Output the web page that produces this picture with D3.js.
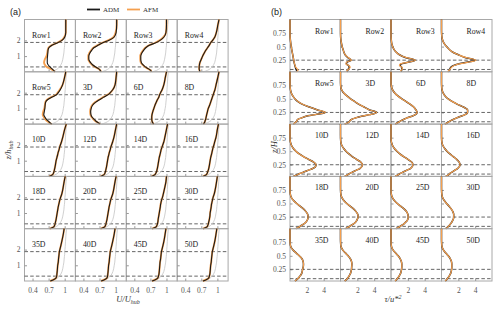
<!DOCTYPE html>
<html lang="en">
<head>
<meta charset="UTF-8">
<title>Wake profiles</title>
<script src="https://d3js.org/d3.v7.min.js"></script>
<style>
  body { margin: 0; background: #fff; }
  svg { display: block; }
  .tick text { font-family: "Liberation Serif", serif; font-size: 7.5px; fill: #555; }
  .tick line { stroke: #999; }
  .lbl { font-family: "Liberation Serif", serif; font-size: 7.8px; fill: #222; }
  .leg { font-family: "Liberation Serif", serif; font-size: 7px; fill: #333; }
  .ttl { font-family: "Liberation Serif", serif; font-size: 8.5px; font-style: italic; fill: #333; }
  .tag { font-family: "Liberation Sans", Arial, sans-serif; font-size: 9px; fill: #222; }
</style>
</head>
<body>
<div id="chart"></div>
<script>
const labels = ["Row1", "Row2", "Row3", "Row4", "Row5", "3D", "6D", "8D",
  "10D", "12D", "14D", "16D", "18D", "20D", "25D", "30D", "35D", "40D", "45D", "50D"];

// (a) streamwise velocity U/U_hub, read at these heights z/h_hub
const zA = [0, 0.1, 0.2, 0.3, 0.45, 0.6, 0.8, 1.0, 1.2, 1.4, 1.55, 1.7, 1.85, 2.0, 2.2, 2.5, 3.0, 3.33];
const inflowU = [0.74, 0.82, 0.87, 0.9, 0.93, 0.95, 0.965, 0.975, 0.985, 0.99, 0.995, 1.0, 1.0, 1.005, 1.01, 1.015, 1.025, 1.035];
const admU = [
  [0.82, 0.79, 0.76, 0.73, 0.69, 0.675, 0.675, 0.68, 0.685, 0.69, 0.71, 0.77, 0.87, 0.95, 1.0, 1.02, 1.02, 1.02],
  [0.73, 0.71, 0.68, 0.63, 0.57, 0.53, 0.5, 0.5, 0.52, 0.56, 0.6, 0.68, 0.76, 0.87, 0.97, 1.01, 1.02, 1.02],
  [0.72, 0.7, 0.66, 0.61, 0.56, 0.53, 0.52, 0.52, 0.54, 0.58, 0.62, 0.69, 0.8, 0.88, 0.95, 0.99, 1.0, 1.0],
  [0.675, 0.665, 0.66, 0.66, 0.665, 0.675, 0.7, 0.725, 0.755, 0.79, 0.82, 0.85, 0.875, 0.91, 0.95, 0.98, 1.01, 1.03],
  [0.76, 0.72, 0.69, 0.66, 0.63, 0.61, 0.62, 0.63, 0.635, 0.645, 0.68, 0.75, 0.84, 0.88, 0.92, 0.96, 1.0, 1.02],
  [0.71, 0.67, 0.63, 0.6, 0.56, 0.54, 0.535, 0.545, 0.57, 0.63, 0.7, 0.77, 0.85, 0.9, 0.95, 0.99, 1.01, 1.02],
  [0.76, 0.74, 0.73, 0.725, 0.725, 0.73, 0.745, 0.765, 0.785, 0.81, 0.83, 0.855, 0.87, 0.89, 0.92, 0.95, 0.98, 1.0],
  [0.74, 0.76, 0.77, 0.78, 0.79, 0.8, 0.815, 0.83, 0.855, 0.875, 0.89, 0.905, 0.92, 0.935, 0.955, 0.975, 1.01, 1.03],
  [0.71, 0.77, 0.79, 0.8, 0.81, 0.82, 0.83, 0.84, 0.855, 0.87, 0.88, 0.895, 0.905, 0.92, 0.94, 0.965, 1.0, 1.03],
  [0.72, 0.78, 0.8, 0.81, 0.82, 0.83, 0.84, 0.85, 0.86, 0.875, 0.885, 0.9, 0.91, 0.925, 0.945, 0.97, 1.0, 1.02],
  [0.72, 0.78, 0.8, 0.815, 0.825, 0.835, 0.845, 0.855, 0.865, 0.88, 0.89, 0.9, 0.915, 0.93, 0.95, 0.97, 1.0, 1.02],
  [0.73, 0.79, 0.81, 0.82, 0.835, 0.845, 0.855, 0.865, 0.875, 0.89, 0.9, 0.91, 0.92, 0.935, 0.95, 0.975, 1.0, 1.02],
  [0.72, 0.79, 0.81, 0.82, 0.83, 0.84, 0.85, 0.86, 0.87, 0.88, 0.89, 0.9, 0.91, 0.925, 0.945, 0.965, 0.99, 1.01],
  [0.72, 0.79, 0.81, 0.82, 0.83, 0.84, 0.85, 0.86, 0.87, 0.88, 0.89, 0.9, 0.91, 0.925, 0.945, 0.965, 0.99, 1.01],
  [0.73, 0.8, 0.82, 0.83, 0.84, 0.845, 0.855, 0.865, 0.875, 0.885, 0.89, 0.9, 0.91, 0.925, 0.94, 0.96, 0.99, 1.0],
  [0.73, 0.8, 0.82, 0.83, 0.84, 0.85, 0.86, 0.865, 0.875, 0.885, 0.89, 0.9, 0.91, 0.92, 0.94, 0.96, 0.985, 1.0],
  [0.73, 0.8, 0.84, 0.85, 0.855, 0.86, 0.865, 0.87, 0.88, 0.885, 0.89, 0.895, 0.9, 0.91, 0.925, 0.945, 0.975, 0.99],
  [0.73, 0.8, 0.84, 0.85, 0.855, 0.86, 0.865, 0.87, 0.88, 0.885, 0.89, 0.895, 0.9, 0.91, 0.925, 0.945, 0.975, 0.99],
  [0.73, 0.8, 0.84, 0.85, 0.86, 0.865, 0.87, 0.875, 0.88, 0.89, 0.895, 0.9, 0.905, 0.915, 0.93, 0.95, 0.975, 0.99],
  [0.73, 0.8, 0.84, 0.85, 0.86, 0.865, 0.87, 0.875, 0.885, 0.89, 0.895, 0.9, 0.905, 0.915, 0.93, 0.95, 0.975, 0.99]
];
// AFM only parts away from ADM in the near wake; elsewhere the two lie on top of each other
const afmU = admU.slice();
afmU[0] = [0.82, 0.78, 0.73, 0.67, 0.63, 0.615, 0.63, 0.66, 0.675, 0.685, 0.7, 0.76, 0.86, 0.94, 0.99, 1.02, 1.02, 1.02];
afmU[1] = [0.73, 0.71, 0.68, 0.62, 0.56, 0.52, 0.49, 0.49, 0.51, 0.55, 0.59, 0.67, 0.75, 0.86, 0.96, 1.0, 1.02, 1.02];
afmU[2] = [0.72, 0.7, 0.65, 0.6, 0.55, 0.52, 0.51, 0.51, 0.53, 0.57, 0.61, 0.68, 0.79, 0.87, 0.94, 0.99, 1.0, 1.0];
afmU[4] = [0.76, 0.71, 0.67, 0.64, 0.61, 0.59, 0.6, 0.62, 0.63, 0.64, 0.67, 0.74, 0.83, 0.87, 0.91, 0.96, 1.0, 1.02];
afmU[5] = [0.71, 0.67, 0.62, 0.59, 0.55, 0.53, 0.525, 0.535, 0.56, 0.62, 0.69, 0.76, 0.84, 0.9, 0.95, 0.99, 1.01, 1.02];

// (b) shear stress tau/u*^2, read at these heights z/H
const zB = [0.035, 0.06, 0.09, 0.12, 0.15, 0.18, 0.21, 0.25, 0.3, 0.35, 0.4, 0.45, 0.5, 0.55, 0.6, 0.65, 0.7, 0.8, 0.9, 1.0];
const admT = [
  [0.85, 0.78, 0.7, 0.64, 0.58, 0.53, 0.49, 0.44, 0.38, 0.32, 0.26, 0.2, 0.15, 0.1, 0.06, 0.03, 0.01, 0, 0, 0],
  [0.75, 0.85, 0.95, 1.05, 0.95, 0.7, 0.75, 1.25, 0.85, 0.55, 0.4, 0.3, 0.2, 0.13, 0.07, 0.03, 0.01, 0, 0, 0],
  [1.2, 1.25, 1.3, 1.25, 1.1, 1.2, 2.0, 2.85, 1.7, 1.0, 0.6, 0.35, 0.2, 0.1, 0.05, 0.02, 0, 0, 0, 0],
  [0.8, 0.95, 1.0, 1.1, 1.4, 2.0, 3.0, 4.0, 2.8, 2.0, 1.3, 0.9, 0.6, 0.35, 0.18, 0.08, 0.03, 0, 0, 0],
  [0.4, 0.6, 0.8, 0.9, 1.4, 1.9, 3.0, 4.2, 3.2, 2.3, 1.5, 0.95, 0.6, 0.35, 0.18, 0.08, 0.03, 0, 0, 0],
  [0.5, 0.9, 1.1, 1.3, 1.8, 2.5, 3.5, 4.3, 3.4, 2.8, 2.2, 1.7, 1.2, 0.8, 0.45, 0.2, 0.06, 0, 0, 0],
  [0.5, 0.8, 1.1, 1.5, 1.9, 2.5, 2.9, 3.1, 2.95, 2.7, 2.3, 1.8, 1.3, 0.85, 0.5, 0.25, 0.1, 0, 0, 0],
  [0.4, 0.7, 1.0, 1.4, 1.8, 2.3, 2.8, 3.1, 3.1, 2.6, 1.9, 1.3, 0.8, 0.45, 0.22, 0.1, 0.03, 0, 0, 0],
  [0.4, 0.8, 1.2, 1.7, 2.2, 2.7, 3.0, 3.1, 2.8, 2.2, 1.6, 1.1, 0.7, 0.4, 0.2, 0.08, 0.02, 0, 0, 0],
  [0.5, 0.8, 1.1, 1.5, 1.9, 2.3, 2.5, 2.6, 2.4, 1.9, 1.4, 1.0, 0.65, 0.38, 0.18, 0.07, 0.02, 0, 0, 0],
  [0.5, 0.8, 1.1, 1.5, 1.9, 2.3, 2.5, 2.6, 2.45, 2.0, 1.5, 1.05, 0.7, 0.4, 0.2, 0.08, 0.02, 0, 0, 0],
  [0.5, 0.8, 1.0, 1.3, 1.6, 1.9, 2.1, 2.2, 2.1, 1.8, 1.4, 1.0, 0.65, 0.38, 0.18, 0.07, 0.02, 0, 0, 0],
  [0.7, 1.0, 1.3, 1.6, 1.85, 2.0, 2.1, 2.15, 2.1, 1.9, 1.6, 1.2, 0.8, 0.45, 0.2, 0.07, 0.02, 0, 0, 0],
  [0.6, 0.9, 1.2, 1.5, 1.75, 1.9, 2.0, 2.1, 2.05, 1.85, 1.55, 1.15, 0.75, 0.42, 0.2, 0.07, 0.02, 0, 0, 0],
  [0.6, 0.9, 1.2, 1.5, 1.7, 1.9, 2.0, 2.05, 2.0, 1.85, 1.55, 1.15, 0.75, 0.42, 0.2, 0.07, 0.02, 0, 0, 0],
  [0.5, 0.7, 0.9, 1.05, 1.2, 1.3, 1.4, 1.45, 1.45, 1.35, 1.15, 0.9, 0.6, 0.35, 0.16, 0.06, 0.02, 0, 0, 0],
  [0.6, 0.8, 1.0, 1.15, 1.3, 1.4, 1.45, 1.5, 1.58, 1.6, 1.55, 1.4, 1.1, 0.75, 0.4, 0.15, 0.04, 0, 0, 0],
  [0.5, 0.7, 0.85, 1.0, 1.1, 1.2, 1.25, 1.3, 1.33, 1.35, 1.3, 1.15, 0.9, 0.6, 0.3, 0.12, 0.03, 0, 0, 0],
  [0.5, 0.65, 0.8, 0.95, 1.05, 1.15, 1.2, 1.25, 1.28, 1.28, 1.22, 1.08, 0.85, 0.55, 0.28, 0.1, 0.03, 0, 0, 0],
  [0.45, 0.6, 0.75, 0.9, 1.0, 1.1, 1.15, 1.2, 1.22, 1.22, 1.17, 1.03, 0.8, 0.52, 0.26, 0.1, 0.03, 0, 0, 0]
];
const afmT = admT.slice();
afmT[0] = [0.75, 0.95, 0.85, 0.68, 0.6, 0.54, 0.5, 0.45, 0.38, 0.32, 0.26, 0.2, 0.15, 0.1, 0.06, 0.03, 0.01, 0, 0, 0];
afmT[1] = [0.7, 0.8, 1.0, 1.15, 1.0, 0.65, 0.7, 1.3, 0.9, 0.55, 0.4, 0.3, 0.2, 0.13, 0.07, 0.03, 0.01, 0, 0, 0];
afmT[2] = [1.1, 1.2, 1.35, 1.3, 1.0, 1.1, 2.0, 2.9, 1.75, 1.0, 0.6, 0.35, 0.2, 0.1, 0.05, 0.02, 0, 0, 0, 0];
afmT[3] = [0.7, 0.9, 1.05, 1.2, 1.5, 2.1, 3.1, 4.1, 2.85, 2.0, 1.3, 0.9, 0.6, 0.35, 0.18, 0.08, 0.03, 0, 0, 0];

// rotor lines (dashed)
const rotorA = [0.31, 1.87];
const rotorB = [0.078, 0.25];

const ADM_COLOR = "#1a1a1a", AFM_COLOR = "#f5a04f";

const svg = d3.select("#chart").append("svg")
  .attr("width", 500)
  .attr("height", 310);

const rowTop = 19.5, rowH = 52.3;
const fmt = d3.format("~g");

const panels = [
  { x0: 24.5, colW: 50.9, xDom: [0.25, 1.2], yDom: [0, 3.33], z: zA, adm: admU, afm: afmU,
    grey: inflowU, rotor: rotorA, xTicks: [0.4, 0.7, 1], yTicks: [1, 2], labelDx: 7.5, labelDy: 18, afmBelow: true },
  { x0: 290, colW: 50.5, xDom: [0, 6], yDom: [0.035, 1.0], z: zB, adm: admT, afm: afmT,
    grey: null, rotor: rotorB, xTicks: [2, 4], yTicks: [0.25, 0.5, 0.75], labelDx: 25, labelDy: 14, afmBelow: false }
];

panels.forEach(p => {
  const g = svg.append("g");
  labels.forEach((name, i) => {
    const r = Math.floor(i / 4), c = i % 4;
    const x = d3.scaleLinear().domain(p.xDom).range([p.x0 + c * p.colW, p.x0 + (c + 1) * p.colW]);
    const y = d3.scaleLinear().domain(p.yDom).range([rowTop + (r + 1) * rowH, rowTop + r * rowH]);
    const cell = g.append("g");

    cell.append("rect")
      .attr("x", x.range()[0]).attr("y", y.range()[1])
      .attr("width", p.colW).attr("height", rowH)
      .attr("fill", "none").attr("stroke", "#a8a8a8").attr("stroke-width", 1);

    // small inward frame ticks
    const bottomAx = cell.append("g").attr("transform", `translate(0,${y.range()[0]})`)
      .call(d3.axisBottom(x).tickValues(p.xTicks).tickSize(-2.5).tickFormat(r === 4 ? fmt : () => ""));
    bottomAx.select(".domain").remove();
    bottomAx.selectAll(".tick text").attr("dy", "1.2em");
    const leftAx = cell.append("g").attr("transform", `translate(${x.range()[0]},0)`)
      .call(d3.axisLeft(y).tickValues(p.yTicks).tickSize(-2.5).tickPadding(4).tickFormat(c === 0 ? fmt : () => ""));
    leftAx.select(".domain").remove();

    p.rotor.forEach(v => {
      cell.append("line")
        .attr("x1", x.range()[0]).attr("x2", x.range()[1])
        .attr("y1", y(v)).attr("y2", y(v))
        .attr("stroke", "#555").attr("stroke-width", 0.9).attr("stroke-dasharray", "3.5,2.2");
    });

    const path = vals => {
      const pts = p.z.map((z, k) => [x(vals[k]), y(z)]).reverse();
      return d3.line().curve(d3.curveMonotoneY)(pts);
    };

    if (p.grey) {
      cell.append("path").attr("d", path(p.grey))
        .attr("fill", "none").attr("stroke", "#c4c4c4").attr("stroke-width", 0.8);
    }
    if (p.afmBelow) {
      cell.append("path").attr("d", path(p.afm[i])).attr("fill", "none")
        .attr("stroke", AFM_COLOR).attr("stroke-width", 1.9);
      cell.append("path").attr("d", path(p.adm[i])).attr("fill", "none")
        .attr("stroke", ADM_COLOR).attr("stroke-width", 1.1);
    } else {
      cell.append("path").attr("d", path(p.adm[i])).attr("fill", "none")
        .attr("stroke", ADM_COLOR).attr("stroke-width", 1.5);
      cell.append("path").attr("d", path(p.afm[i])).attr("fill", "none")
        .attr("stroke", AFM_COLOR).attr("stroke-width", 1.2);
    }

    cell.append("text").attr("class", "lbl")
      .attr("x", x.range()[0] + p.labelDx)
      .attr("y", y.range()[1] + p.labelDy)
      .text(name);
  });
});

// legend
const legend = svg.append("g");
[["ADM", ADM_COLOR, 87], ["AFM", AFM_COLOR, 127]].forEach(([name, col, lx]) => {
  legend.append("line").attr("x1", lx).attr("x2", lx + 13).attr("y1", 9.5).attr("y2", 9.5)
    .attr("stroke", col).attr("stroke-width", 1.8);
  legend.append("text").attr("class", "leg").attr("x", lx + 16).attr("y", 12).text(name);
});

// panel tags and axis titles
svg.append("text").attr("class", "tag").attr("x", 10).attr("y", 14.5).text("(a)");
svg.append("text").attr("class", "tag").attr("x", 271).attr("y", 14.5).text("(b)");

const tA = svg.append("text").attr("class", "ttl").attr("x", 128).attr("y", 302).attr("text-anchor", "middle");
tA.append("tspan").text("U/U");
tA.append("tspan").attr("font-size", "6px").attr("dy", 1.8).text("hub");

const tZa = svg.append("text").attr("class", "ttl").attr("text-anchor", "middle")
  .attr("transform", "translate(11,150) rotate(-90)");
tZa.append("tspan").text("z/h");
tZa.append("tspan").attr("font-size", "6px").attr("dy", 1.8).text("hub");

const tB = svg.append("text").attr("class", "ttl").attr("x", 393).attr("y", 302).attr("text-anchor", "middle");
tB.append("tspan").text("τ/u*");
tB.append("tspan").attr("font-size", "6px").attr("dy", -3.5).text("2");

svg.append("text").attr("class", "ttl").attr("text-anchor", "middle")
  .attr("transform", "translate(277,147) rotate(-90)").text("z/H");
</script>
</body>
</html>
